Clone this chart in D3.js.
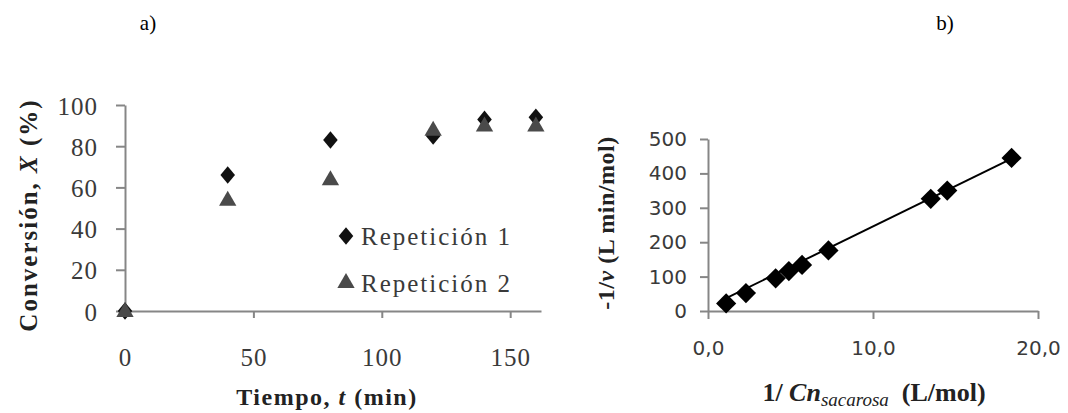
<!DOCTYPE html>
<html>
<head>
<meta charset="utf-8">
<script src="https://cdn.jsdelivr.net/npm/d3@7"></script>
<style>
  body { margin: 0; background: #fff; }
  svg { display: block; }
  .axis path, .axis line { stroke: #868686; stroke-width: 2; }
  .serifTicks text { font-family: "Liberation Serif", "Times New Roman", serif; font-size: 25px; fill: #3a3a3a; letter-spacing: 1px; }
  .sansTicks text { font-family: "DejaVu Sans", sans-serif; font-size: 20px; fill: #3a3a3a; }
  .title { font-family: "Liberation Serif", "Times New Roman", serif; font-weight: bold; fill: #222; }
  .legendText { font-family: "Liberation Serif", "Times New Roman", serif; font-size: 25px; letter-spacing: 2px; fill: #3a3a3a; }
</style>
</head>
<body>
<div id="chart"></div>
<script>
// panel a: conversion vs time
const tiempo = [0, 40, 80, 120, 140, 160];
const repeticion1 = [0, 66, 83, 85, 93, 94];
const repeticion2 = [0, 54, 64, 88, 90, 90];
const seriesNames = ["Repetición 1", "Repetición 2"];
const ticksA_x = [0, 50, 100, 150];
const ticksA_y = [0, 20, 40, 60, 80, 100];

// panel b: Lineweaver-Burk style plot
const invC = [1.1, 2.3, 4.1, 4.9, 5.7, 7.3, 13.5, 14.5, 18.4];
const invV = [22, 52, 95, 116, 134, 176, 326, 350, 445];
const trendX = [0.8, 18.4];
const trendY = [30, 443];
const ticksB_x = [0, 10, 20];
const ticksB_y = [0, 100, 200, 300, 400, 500];

const width = 1068, height = 413;
const svg = d3.select("#chart").append("svg")
    .attr("width", width)
    .attr("height", height);

// panel labels
svg.append("text").attr("x", 148).attr("y", 30)
    .attr("text-anchor", "middle")
    .style("font-family", "'Liberation Serif', serif").style("font-size", "21px")
    .text("a)");
svg.append("text").attr("x", 945).attr("y", 30)
    .attr("text-anchor", "middle")
    .style("font-family", "'Liberation Serif', serif").style("font-size", "21px")
    .text("b)");

// ---------- chart a ----------
const xA = d3.scaleLinear().domain([0, 162]).range([125, 541]);
const yA = d3.scaleLinear().domain([0, 100]).range([311, 105]);

svg.append("g")
    .attr("class", "axis serifTicks")
    .attr("transform", `translate(0,${yA(0)})`)
    .call(d3.axisBottom(xA).tickValues(ticksA_x).tickSize(7).tickSizeOuter(0).tickPadding(30));

const axA_y = svg.append("g")
    .attr("class", "axis serifTicks")
    .attr("transform", `translate(${xA(0)},0)`)
    .call(d3.axisLeft(yA).tickValues(ticksA_y).tickSize(9).tickSizeOuter(0).tickPadding(18));
axA_y.selectAll("text").attr("dy", "0.36em");

const diamondA = d3.symbol().type(d3.symbolDiamond2).size(150);
const diamondB = d3.symbol().type(d3.symbolDiamond2).size(260);
const triangle = d3.symbol().type(d3.symbolTriangle).size(130);

const pts1 = tiempo.map((t, i) => ({ x: t, y: repeticion1[i] }));
const pts2 = tiempo.map((t, i) => ({ x: t, y: repeticion2[i] }));

svg.append("g").selectAll("path")
    .data(pts1)
    .enter().append("path")
    .attr("d", diamondA)
    .attr("transform", d => `translate(${xA(d.x)},${yA(d.y)}) scale(0.95,1.15)`)
    .attr("fill", "#111");

svg.append("g").selectAll("path")
    .data(pts2)
    .enter().append("path")
    .attr("d", triangle)
    .attr("transform", d => `translate(${xA(d.x)},${yA(d.y) + 1})`)
    .attr("fill", "#4a4a4a");

// legend
const legend = svg.append("g").attr("transform", "translate(346,236)");
legend.append("path").attr("d", diamondA).attr("transform", "scale(0.95,1.15)").attr("fill", "#111");
legend.append("text").attr("class", "legendText").attr("x", 15).attr("y", 9)
    .text(seriesNames[0]);
legend.append("path").attr("d", triangle)
    .attr("transform", "translate(0,47)").attr("fill", "#4a4a4a");
legend.append("text").attr("class", "legendText").attr("x", 15).attr("y", 56)
    .text(seriesNames[1]);

// axis titles a
svg.append("text").attr("class", "title")
    .attr("x", 327).attr("y", 405)
    .attr("text-anchor", "middle")
    .style("font-size", "24px").style("letter-spacing", "1.5px")
    .html('Tiempo, <tspan font-style="italic">t</tspan> (min)');

svg.append("text").attr("class", "title")
    .attr("transform", "translate(37,215) rotate(-90)")
    .attr("text-anchor", "middle")
    .style("font-size", "25px").style("letter-spacing", "2px")
    .html('Conversión, <tspan font-style="italic">X</tspan> (%)');

// ---------- chart b ----------
const xB = d3.scaleLinear().domain([0, 20]).range([708, 1038]);
const yB = d3.scaleLinear().domain([0, 500]).range([311, 139]);

svg.append("g")
    .attr("class", "axis sansTicks")
    .attr("transform", `translate(0,${yB(0)})`)
    .call(d3.axisBottom(xB).tickValues(ticksB_x).tickSize(8).tickSizeOuter(0).tickPadding(22)
        .tickFormat(d => d3.format(".1f")(d).replace(".", ",")));

svg.append("g")
    .attr("class", "axis sansTicks")
    .attr("transform", `translate(${xB(0)},0)`)
    .call(d3.axisLeft(yB).tickValues(ticksB_y).tickSize(8).tickSizeOuter(0).tickPadding(13));

svg.append("line")
    .attr("x1", xB(trendX[0])).attr("y1", yB(trendY[0]))
    .attr("x2", xB(trendX[1])).attr("y2", yB(trendY[1]))
    .attr("stroke", "#000").attr("stroke-width", 2);

svg.append("g").selectAll("path")
    .data(invC.map((c, i) => ({ x: c, y: invV[i] })))
    .enter().append("path")
    .attr("d", diamondB)
    .attr("transform", d => `translate(${xB(d.x)},${yB(d.y)})`)
    .attr("fill", "#000");

svg.append("text").attr("class", "title")
    .attr("x", 874).attr("y", 401)
    .attr("text-anchor", "middle")
    .style("font-size", "26px")
    .html('1/ <tspan font-style="italic">Cn</tspan><tspan font-style="italic" font-weight="normal" font-size="19px" dy="5">sacarosa</tspan><tspan dy="-5" xml:space="preserve">  (L/mol)</tspan>');

svg.append("text").attr("class", "title")
    .attr("transform", "translate(614,223) rotate(-90)")
    .attr("text-anchor", "middle")
    .style("font-size", "24px").style("letter-spacing", "0.5px")
    .html('-1/<tspan font-style="italic">v</tspan> (L min/mol)');
</script>
</body>
</html>
